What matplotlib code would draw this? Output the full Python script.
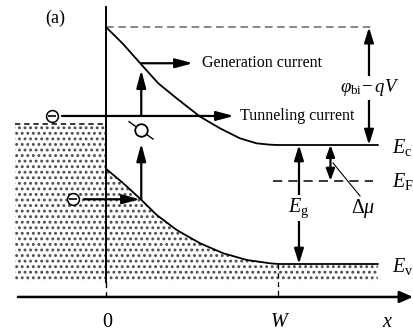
import matplotlib
matplotlib.use('Agg')
import matplotlib.pyplot as plt

plt.rcParams['font.family'] = ['Liberation Serif', 'DejaVu Sans']
plt.rcParams['mathtext.fontset'] = 'custom'
plt.rcParams['mathtext.rm'] = 'Liberation Serif'
plt.rcParams['mathtext.it'] = 'Liberation Serif:italic'
plt.rcParams['mathtext.bf'] = 'Liberation Serif:bold'
plt.rcParams['hatch.linewidth'] = 1.3

# x in units of W, energy in units of Eg (Ev = 0 far from the junction)
cb_x = [0.0, 0.05, 0.101, 0.208, 0.304, 0.411, 0.547, 0.663, 0.779, 0.876, 0.95, 1.0, 1.58]
cb_E = [1.99, 1.92, 1.846, 1.672, 1.518, 1.392, 1.238, 1.140, 1.056, 1.014, 1.003, 1.0, 1.0]
vb_x = [0.0, 0.101, 0.202, 0.295, 0.411, 0.547, 0.682, 0.818, 0.953, 1.0, 1.58]
vb_E = [0.80, 0.678, 0.544, 0.412, 0.286, 0.174, 0.090, 0.034, 0.006, 0.0, 0.0]

E_c = 1.0
E_v = 0.0
E_F = 0.70
E_top = 1.99          # phi_bi - qV reference level
E_left = 1.176        # left-side filled level
E_tunnel = 1.244
E_gen = 1.687
E_inj = 0.544
E_bot = -0.15
E_axis = -0.277
x_left = -0.53
x_gen = 0.205
x_phi = 1.529
x_Eg = 1.122
x_dmu = 1.305

# electrons (circled minus) positions
elec_x = [-0.314, -0.192]
elec_E = [E_tunnel, E_inj]

tick_pos = [0.0, 1.0]
tick_labels = ['0', r'$W$']

fig = plt.figure(figsize=(4.13, 3.33), dpi=100)
ax = fig.add_axes([0, 0, 1, 1])
ax.set_xlim(-106 / 172, 307 / 172)
ax.set_ylim(-69 / 119, 264 / 119)
ax.axis('off')

# shaded (filled) regions
ax.fill_between([x_left, 0.0], [E_bot, E_bot], [E_left, E_left],
                facecolor='white', edgecolor='0.3', linewidth=0, hatch='...', zorder=1)
ax.fill_between(vb_x, [E_bot] * len(vb_x), vb_E,
                facecolor='white', edgecolor='0.3', linewidth=0, hatch='...', zorder=1)

# bands
ax.plot(cb_x, cb_E, color='k', lw=1.3, zorder=3, solid_joinstyle='round')
ax.plot(vb_x, vb_E, color='k', lw=1.3, zorder=3, solid_joinstyle='round')

# dashed levels
ax.plot([0.0, 1.56], [E_top, E_top], color='0.4', lw=1.1, dashes=(5, 3), zorder=2)
ax.plot([x_left, 0.0], [E_left, E_left], color='k', lw=1.1, dashes=(3.5, 2.5), zorder=2)
ax.plot([0.971, 1.552], [E_F, E_F], color='k', lw=1.1, dashes=(6, 4), zorder=2)

# junction line
ax.plot([0.0, 0.0], [2.16, E_bot], color='k', lw=1.4, zorder=3)
ax.plot([0.0, 0.0], [E_bot, E_axis], color='k', lw=1.0, dashes=(4, 3), zorder=3)
ax.plot([1.0, 1.0], [E_v, E_axis], color='k', lw=0.9, dashes=(4, 3), zorder=3)

# x axis
ax.annotate('', xy=(1.785, E_axis), xytext=(-0.512, E_axis),
            arrowprops=dict(arrowstyle='-|>,head_length=0.8,head_width=0.35',
                            mutation_scale=10, lw=1.8, color='k',
                            shrinkA=0, shrinkB=0), zorder=4)

arr = dict(arrowstyle='-|>,head_length=1.05,head_width=0.28', mutation_scale=10,
           lw=1.6, color='k', shrinkA=0, shrinkB=0)
darr = dict(arrowstyle='<|-|>,head_length=0.9,head_width=0.28', mutation_scale=10,
            lw=1.6, color='k', shrinkA=0, shrinkB=0)
darr_s = dict(arrowstyle='<|-|>,head_length=0.7,head_width=0.26', mutation_scale=10,
              lw=1.6, color='k', shrinkA=0, shrinkB=0)

# tunneling
ax.annotate('', xy=(0.744, E_tunnel), xytext=(-0.256, E_tunnel), arrowprops=arr, zorder=4)
ax.text(0.779, E_tunnel, 'Tunneling current', fontsize=11.5, ha='left', va='center')

# generation
ax.annotate('', xy=(x_gen, 1.63), xytext=(x_gen, E_tunnel), arrowprops=arr, zorder=4)
ax.annotate('', xy=(0.506, E_gen), xytext=(x_gen, E_gen), arrowprops=arr, zorder=4)
ax.text(0.558, E_gen, 'Generation current', fontsize=11.5, ha='left', va='center')

# hole
ax.plot([0.134, 0.273], [1.196, 1.050], color='k', lw=1.0, zorder=4)
ax.plot([x_gen], [1.122], marker='o', ms=9, mfc='white', mec='k', mew=1.3, zorder=5)
ax.annotate('', xy=(x_gen, 1.014), xytext=(x_gen, E_inj), arrowprops=arr, zorder=4)

# injected electron
ax.annotate('', xy=(0.198, E_inj), xytext=(-0.128, E_inj), arrowprops=arr, zorder=4)

# electrons
ax.plot(elec_x, elec_E, ls='none', marker='o', ms=8.5, mfc='white', mec='k',
        mew=1.1, zorder=5)
ax.plot(elec_x, elec_E, ls='none', marker='_', ms=5.5, mec='k', mew=1.2, zorder=6)

# energy arrows
ax.annotate('', xy=(x_phi, E_c), xytext=(x_phi, E_top), arrowprops=darr, zorder=4)
ax.text(x_phi + 0.005, 1.479, r'$\varphi_{\mathrm{bi}}\!-qV$', fontsize=13.5,
        ha='center', va='center', zorder=6,
        bbox=dict(facecolor='white', edgecolor='none', pad=1))
ax.annotate('', xy=(x_Eg, E_v), xytext=(x_Eg, E_c), arrowprops=darr, zorder=4)
ax.text(x_Eg, 0.47, r'$E_{\mathrm{g}}$', fontsize=14.5, ha='center', va='center',
        zorder=6, bbox=dict(facecolor='white', edgecolor='none', pad=1))
ax.annotate('', xy=(x_dmu, E_F), xytext=(x_dmu, E_c), arrowprops=darr_s, zorder=4)
ax.plot([1.320, 1.477], [0.849, 0.571], color='k', lw=0.8, zorder=4)
ax.text(1.494, 0.47, r'$\Delta\mu$', fontsize=14.5, ha='center', va='center', zorder=6)

# band labels
ax.text(1.66, 0.98, r'$E_{\mathrm{c}}$', fontsize=14.5, ha='left', va='center')
ax.text(1.66, 0.69, r'$E_{\mathrm{F}}$', fontsize=14.5, ha='left', va='center')
ax.text(1.66, -0.02, r'$E_{\mathrm{v}}$', fontsize=14.5, ha='left', va='center')
ax.text(-0.297, 2.067, '(a)', fontsize=13, ha='center', va='center')

for p, lab in zip(tick_pos, tick_labels):
    ax.text(p + 0.01, -0.49, lab, fontsize=14.5, ha='center', va='center')
ax.text(1.635, -0.49, r'$x$', fontsize=14.5, ha='center', va='center')

fig.savefig('out.png', dpi=100)
